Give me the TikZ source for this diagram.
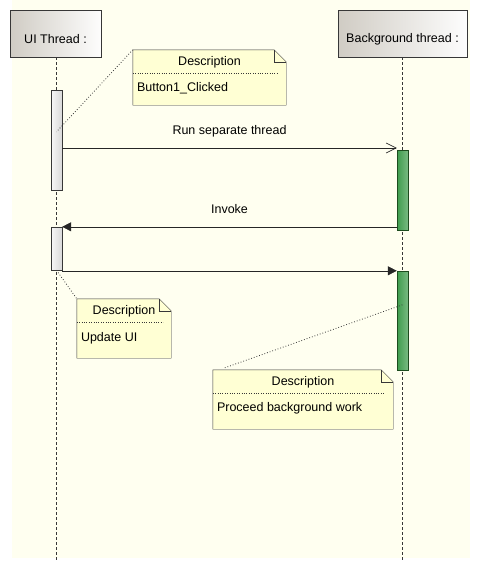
\documentclass[tikz,border=0pt]{standalone}
\usepackage{fontspec}
\setmainfont{Liberation Sans}
\usetikzlibrary{calc, arrows.meta, shapes}
\definecolor{bgyellow}{RGB}{255,255,240}
\definecolor{noteyellow}{RGB}{255,255,212}
\definecolor{linegrey}{RGB}{55,55,55}
\definecolor{boxgrey}{RGB}{208,204,196}
\definecolor{actgreen}{RGB}{62,156,76}
\definecolor{actgreenlight}{RGB}{200,240,200}
\definecolor{actgreenedge}{RGB}{28,76,30}
\tikzset{>=latex}
\tikzset{
  lifebox/.style={draw=linegrey, left color=boxgrey, right color=white!96!boxgrey, minimum height=47pt, inner sep=0pt},
  boxlabel/.style={font=\fontsize{12.5}{14}\selectfont, inner sep=0pt},
  lifeline/.style={draw=linegrey, dash pattern=on 3pt off 2pt, line width=0.6pt},
  uiact/.style={draw=linegrey, left color=gray!6, right color=gray!30, minimum width=11pt, inner sep=0pt},
  bgact/.style={draw=actgreenedge, left color=actgreen, middle color=actgreenlight, right color=actgreen!70!white, minimum width=11pt, inner sep=0pt},
  callmsg/.style={draw=black!85, line width=0.6pt, -{Straight Barb[length=10pt,width=10pt]}},
  sigmsg/.style={draw=black!85, line width=0.6pt, -{Triangle[length=9pt,width=9pt]}},
  msglabel/.style={font=\fontsize{12.5}{14}\selectfont, midway, above=11pt, inner sep=0pt},
  notebox/.style={inner sep=0pt},
  notetext/.style={font=\fontsize{12.5}{14}\selectfont, inner sep=0pt},
  notelink/.style={draw=linegrey, dotted, line width=0.8pt},
}
\newcommand{\notefold}[1]{%
  \draw[draw=linegrey, fill=noteyellow] (#1.north west) -- ([xshift=-12pt]#1.north east)
    -- ([yshift=-12pt]#1.north east) -- (#1.south east) -- (#1.south west) -- cycle;
  \draw[draw=linegrey] ([xshift=-12pt]#1.north east) -- ([xshift=-12pt,yshift=-12pt]#1.north east)
    -- ([yshift=-12pt]#1.north east);
  \draw[draw=linegrey, dotted] ([yshift=-23pt]#1.north west) -- ([xshift=-8pt,yshift=-23pt]#1.north east);
  \node[notetext] (#1head) at ([yshift=-12pt]#1.north) {Description};
}

\begin{document}
\begin{tikzpicture}[x=1pt, y=-1pt]
\useasboundingbox (0,0) rectangle (477,571);
\fill[bgyellow] (12,0) rectangle (470,558);

\node[lifebox, minimum width=91pt] (ui) at (55.5,33.5) {};
\node[boxlabel] (uilabel) at ([yshift=-6pt]ui.center) {UI Thread :};
\node[lifebox, minimum width=129pt] (bg) at (402.5,33.5) {};
\node[boxlabel] (bglabel) at ([yshift=-6pt]bg.center) {Background thread :};

\coordinate (uiend) at (56,562);
\coordinate (bgend) at (402.5,562);
\draw[lifeline] (ui.south -| uiend) -- (uiend);
\draw[lifeline] (bg.south -| bgend) -- (bgend);

\node[uiact, minimum height=100pt] (ua1) at (56.5,140) {};
\node[uiact, minimum height=43pt] (ua2) at (56.5,248.5) {};
\node[bgact, minimum height=80pt] (ba1) at (402.5,190) {};
\node[bgact, minimum height=99pt] (ba2) at (402.5,320.5) {};

\draw[callmsg] (ua1.east |- 0,148) -- (ba1.west |- 0,148)
  node[msglabel] (runlabel) {Run separate thread};
\draw[sigmsg] (ba1.west |- ua2.north) -- (ua2.north east)
  node[msglabel, yshift=2pt] (invokelabel) {Invoke};
\draw[sigmsg] (ua2.east |- ba2.north) -- (ba2.north west);

\node[notebox, minimum width=153pt, minimum height=55pt] (bnote) at (209.5,77.5) {};
\notefold{bnote}
\node[notetext, anchor=west] (bnotebody) at ([xshift=4pt,yshift=-38pt]bnote.north west) {Button1\_Clicked};

\node[notebox, minimum width=94pt, minimum height=59pt] (unote) at (124,328.5) {};
\notefold{unote}
\node[notetext, anchor=west] (unotebody) at ([xshift=4pt,yshift=-39pt]unote.north west) {Update UI};

\node[notebox, minimum width=180pt, minimum height=59pt] (pnote) at (303,399.5) {};
\notefold{pnote}
\node[notetext, anchor=west] (pnotebody) at ([xshift=4pt,yshift=-38pt]pnote.north west) {Proceed background work};

\draw[notelink] (bnote.north west) -- ([yshift=-42pt]ua1.north);
\draw[notelink] (ua2.south) -- (unote.north west);
\draw[notelink] ([xshift=12pt,yshift=2pt]pnote.north west) -- ([yshift=-34pt]ba2.north);
\end{tikzpicture}
\end{document}
